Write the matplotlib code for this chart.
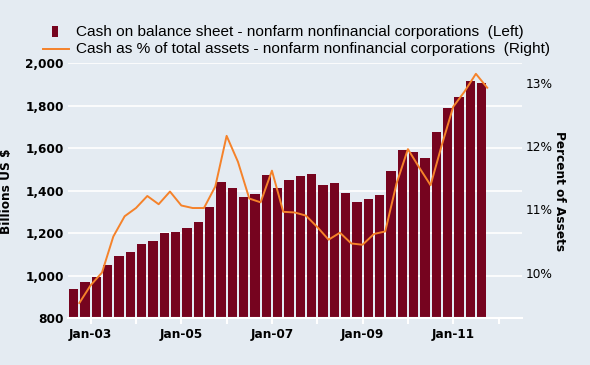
import matplotlib
matplotlib.use("Agg")
import matplotlib.pyplot as plt
from matplotlib.patches import Rectangle
from matplotlib.lines import Line2D
import numpy as np

# Quarterly data, Q3 2002 .. Q3 2011
cash_billions = [938, 971, 995, 1051, 1093, 1112, 1151, 1164, 1201, 1206,
                 1225, 1253, 1325, 1441, 1413, 1372, 1385, 1474, 1413, 1452,
                 1470, 1479, 1427, 1437, 1390, 1347, 1361, 1380, 1493, 1592,
                 1583, 1554, 1677, 1790, 1842, 1917, 1907]
cash_pct_assets = [9.52, 9.80, 10.00, 10.57, 10.89, 11.02, 11.21, 11.08, 11.28, 11.06,
                   11.02, 11.02, 11.36, 12.16, 11.75, 11.17, 11.11, 11.61, 10.96, 10.95,
                   10.90, 10.72, 10.52, 10.63, 10.46, 10.44, 10.61, 10.65, 11.41, 11.95,
                   11.66, 11.38, 12.02, 12.62, 12.86, 13.14, 12.92]
tick_labels = ["Jan-03", "Jan-05", "Jan-07", "Jan-09", "Jan-11"]
left_ticks = [800, 1000, 1200, 1400, 1600, 1800, 2000]
right_ticks = [10, 11, 12, 13]
legend_labels = ["Cash on balance sheet - nonfarm nonfinancial corporations  (Left)",
                 "Cash as % of total assets - nonfarm nonfinancial corporations  (Right)"]

bg = "#E4EBF2"
bar_color = "#76041F"
line_color = "#F5822A"

W, H = 590, 365
fig = plt.figure(figsize=(5.9, 3.65), dpi=100, facecolor=bg)
ax = fig.add_axes([68/W, 1-318.3/H, (522-68)/W, (318.3-63.3)/H])
ax.set_facecolor(bg)

n = len(cash_billions)
x = np.arange(n)
ax.bar(x, cash_billions, width=0.82, color=bar_color, zorder=2)
ax.set_ylim(800, 2000)
ax.set_xlim(-0.5, 39.57)
ax.set_yticks(left_ticks)
ax.set_yticklabels([f"{v:,}" for v in left_ticks], fontweight="bold",
                   fontsize=8.7, family="DejaVu Sans")
ax.tick_params(axis="y", length=0, pad=3)
ax.grid(axis="y", color="white", linewidth=1.2, zorder=0)
ax.set_axisbelow(True)

major = [1.5 + 8*k for k in range(len(tick_labels))]
minor = [1.5 + 4*k for k in range(10)]
ax.set_xticks(major)
ax.set_xticklabels(tick_labels, fontweight="bold", fontsize=8.7, family="DejaVu Sans")
ax.set_xticks(minor, minor=True)
ax.tick_params(axis="x", which="both", length=4, width=1.5, color="white",
               direction="out", pad=3)
for s in ["top", "right", "left"]:
    ax.spines[s].set_visible(False)
ax.spines["bottom"].set_color("white")
ax.spines["bottom"].set_linewidth(1.5)
ax.set_ylabel("Billions US $", fontweight="bold", fontsize=8.7, family="DejaVu Sans")
ax.yaxis.set_label_coords((13-68)/(522-68), 0.5)

ax2 = ax.twinx()
ax2.plot(x + 0.5, cash_pct_assets, color=line_color, linewidth=1.4, zorder=3)
ax2.set_ylim(9.278, 13.306)
ax2.set_yticks(right_ticks)
ax2.set_yticklabels([f"{v}%" for v in right_ticks], fontsize=8.7, family="DejaVu Sans")
ax2.tick_params(axis="y", length=0, pad=3)
for s in ["top", "right", "left", "bottom"]:
    ax2.spines[s].set_visible(False)
ax2.set_ylabel("Percent of Assets", fontweight="bold", fontsize=8.7,
               family="DejaVu Sans", rotation=270, labelpad=0)
ax2.yaxis.set_label_coords((565.7-68)/(522-68), 0.5)

# manual legend (figure pixel coordinates, y from top)
fig.patches.append(Rectangle((52/W, 1-37/H), 5.5/W, 11/H, transform=fig.transFigure,
                             facecolor=bar_color, edgecolor="none"))
fig.lines.append(Line2D([42.5/W, 69/W], [1-49.3/H, 1-49.3/H], transform=fig.transFigure,
                        color=line_color, linewidth=1.4))
fig.text(76/W, 1-31.7/H, legend_labels[0], family="Liberation Sans", fontsize=11.1,
         va="center", ha="left")
fig.text(76/W, 1-49.3/H, legend_labels[1], family="Liberation Sans", fontsize=11.1,
         va="center", ha="left")

fig.savefig("out.png", dpi=100, facecolor=bg)
